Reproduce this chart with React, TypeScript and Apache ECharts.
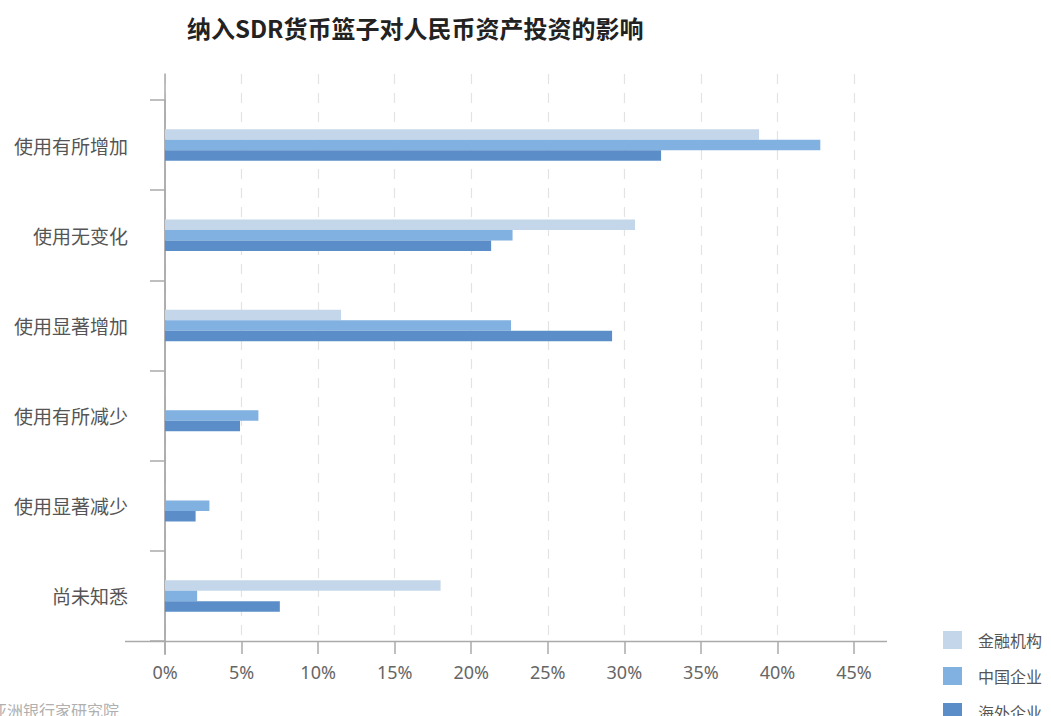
import React, { useEffect, useRef } from "react";
import * as echarts from "echarts";

const categories = ["使用有所增加", "使用无变化", "使用显著增加", "使用有所减少", "使用显著减少", "尚未知悉"];
const financial = [38.8, 30.7, 11.5, 0, 0, 18.0];
const chineseCorp = [42.8, 22.7, 22.6, 6.1, 2.9, 2.1];
const overseasCorp = [32.4, 21.3, 29.2, 4.9, 2.0, 7.5];
const seriesNames = ["金融机构", "中国企业", "海外企业"];
const xTicks = [0, 5, 10, 15, 20, 25, 30, 35, 40, 45];

const CJK = '"Noto Sans CJK SC", "Noto Sans", sans-serif';
const colors = ["#c4d7ea", "#80b1e0", "#5b8ec8"];

export default function App() {
  const ref = useRef<HTMLDivElement>(null);
  useEffect(() => {
    if (!ref.current) return;
    const chart = echarts.init(ref.current, undefined, { renderer: "svg" });
    const gridLeft = 165;
    const gridRight = 1051 - 854;
    const gridBottom = 716 - 641;
    const xMin = xTicks[0];
    const xMax = xTicks[xTicks.length - 1];
    const xInterval = xTicks[1] - xTicks[0];
    const values = [financial, chineseCorp, overseasCorp];
    chart.setOption({
      animation: false,
      backgroundColor: "#ffffff",
      title: {
        text: "纳入SDR货币篮子对人民币资产投资的影响",
        left: 182,
        top: 10,
        textStyle: { fontFamily: CJK, fontSize: 24, fontWeight: "bold", color: "#222" },
      },
      legend: {
        orient: "vertical",
        left: 943,
        top: 631,
        height: 120,
        padding: 0,
        itemWidth: 19,
        itemHeight: 18,
        itemGap: 18,
        icon: "rect",
        data: seriesNames,
        textStyle: { fontFamily: CJK, fontSize: 16, color: "#555", padding: [0, 0, 0, 11] },
      },
      grid: [
        { left: gridLeft, right: gridRight, top: 100, bottom: gridBottom, containLabel: false },
        { left: gridLeft, right: gridRight, top: 74, bottom: gridBottom, containLabel: false },
      ],
      xAxis: [
        {
          type: "value",
          gridIndex: 0,
          min: xMin,
          max: xMax,
          interval: xInterval,
          axisLine: { show: false },
          axisTick: { show: true, length: 13, lineStyle: { color: "#aaa", width: 1.5 } },
          splitLine: { show: false },
          axisLabel: {
            formatter: "{value}%",
            margin: 22,
            fontFamily: '"Noto Sans", sans-serif',
            fontSize: 18,
            color: "#666",
          },
        },
        {
          type: "value",
          gridIndex: 1,
          min: xMin,
          max: xMax,
          interval: xInterval,
          axisLine: { show: false },
          axisTick: { show: false },
          axisLabel: { show: false },
          splitLine: { show: true, lineStyle: { color: "#e3e3e3", width: 1.2, type: [10, 9] } },
        },
      ],
      yAxis: [
        {
          type: "category",
          gridIndex: 0,
          inverse: true,
          data: categories,
          axisLine: { show: true, lineStyle: { color: "#aaa", width: 1.5 } },
          axisTick: { show: true, length: 15, lineStyle: { color: "#aaa", width: 1.5 } },
          axisLabel: { margin: 37, fontFamily: CJK, fontSize: 19, color: "#555" },
          splitLine: { show: false },
        },
        {
          type: "value",
          gridIndex: 1,
          min: 0,
          max: 1,
          axisLine: { show: true, lineStyle: { color: "#aaa", width: 1.5 } },
          axisTick: { show: false },
          axisLabel: { show: false },
          splitLine: { show: false },
        },
      ],
      graphic: [
        {
          type: "line",
          shape: { x1: 125, y1: 641.5, x2: 887, y2: 641.5 },
          style: { stroke: "#aaa", lineWidth: 1.5 },
          z: 10,
        },
        {
          type: "line",
          shape: { x1: 165, y1: 641.5, x2: 165, y2: 655 },
          style: { stroke: "#aaa", lineWidth: 1.5 },
          z: 10,
        },
        {
          type: "text",
          left: -9,
          top: 702,
          style: { text: "亚洲银行家研究院", fontFamily: CJK, fontSize: 16, fill: "#b0b0b0" },
        },
      ],
      series: seriesNames.map((name, i) => ({
        name,
        type: "bar",
        xAxisIndex: 0,
        yAxisIndex: 0,
        data: values[i],
        barWidth: 10.5,
        barGap: "0%",
        itemStyle: { color: colors[i] },
        emphasis: { disabled: true },
      })),
    });
    return () => chart.dispose();
  }, []);
  return (
    <div
      ref={ref}
      style={{ position: "absolute", left: 0, top: 0, width: 1051, height: 716 }}
    />
  );
}
